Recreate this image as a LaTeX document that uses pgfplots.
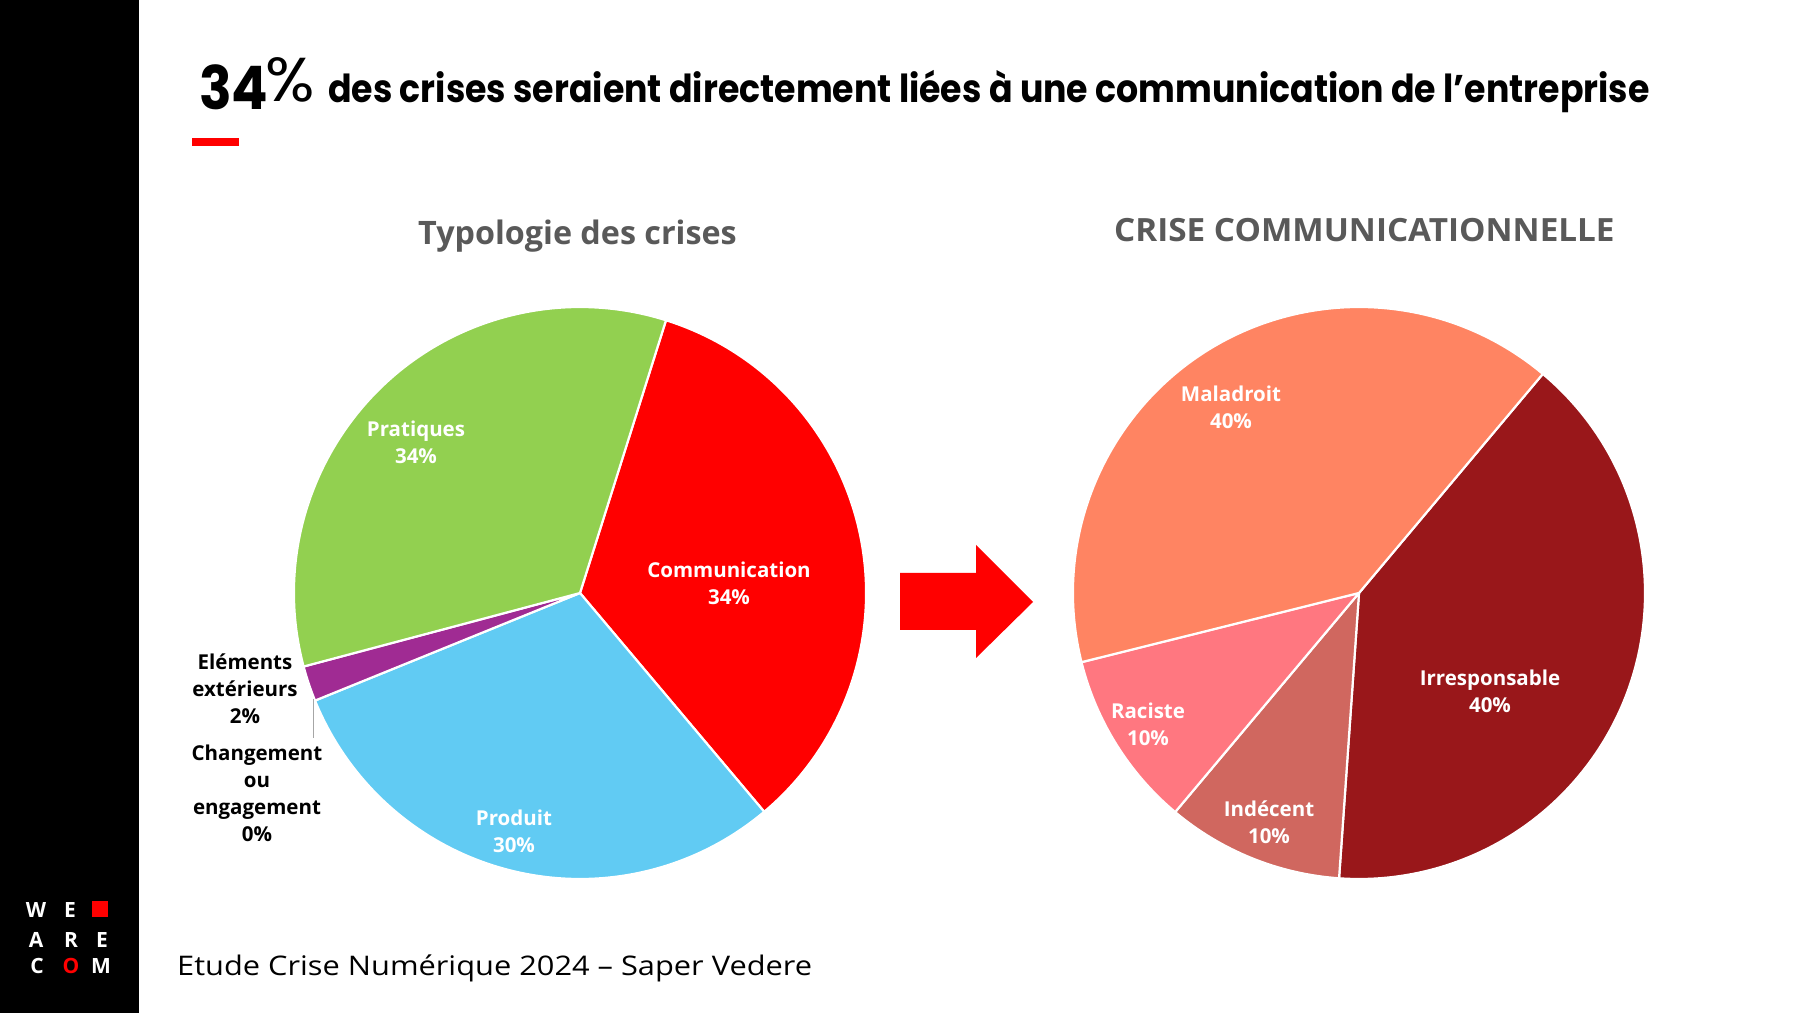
\documentclass[border=0pt]{standalone}
\usepackage{pgfplots}
\pgfplotsset{compat=1.18}
\usepackage{pgfplotstable}
\usepackage{fontspec}
\setmainfont{Open Sans}
\newfontfamily\titlefont{Poppins}[FakeStretch=0.9]
\newfontfamily\pctfont{Poppins}[FakeStretch=1.05]
\newfontfamily\subfont{Open Sans}
\newfontfamily\critfont{Open Sans}[FakeStretch=1.04]
\newfontfamily\footfont{Open Sans}[FakeStretch=1.14]
\newfontfamily\logofont{Open Sans}

\definecolor{cComm}{HTML}{FF0000}
\definecolor{cProd}{HTML}{61CBF3}
\definecolor{cChg}{HTML}{7F7F7F}
\definecolor{cElem}{HTML}{A02B93}
\definecolor{cPrat}{HTML}{92D050}
\definecolor{cIrr}{HTML}{99171A}
\definecolor{cInd}{HTML}{D0675F}
\definecolor{cRac}{HTML}{FF7780}
\definecolor{cMal}{HTML}{FF8462}
\definecolor{subgray}{HTML}{595959}

% Typologie des crises (clockwise from the top)
\pgfplotstableread[col sep=comma]{
value,color
34,cComm
30,cProd
0,cChg
2,cElem
34,cPrat
}\typologie
% Crise communicationnelle
\pgfplotstableread[col sep=comma]{
value,color
40,cIrr
10,cInd
10,cRac
40,cMal
}\crisecom

\newcommand{\pieslices}[2]{%
  \pgfplotstablegetrowsof{#1}%
  \pgfmathtruncatemacro{\lastrow}{\pgfplotsretval-1}%
  \xdef\angA{#2}%
  \foreach \i in {0,...,\lastrow}{%
    \pgfplotstablegetelem{\i}{value}\of{#1}\let\val\pgfplotsretval
    \pgfplotstablegetelem{\i}{color}\of{#1}\let\col\pgfplotsretval
    \pgfmathsetmacro{\angB}{\angA-3.6*\val}%
    \ifdim\val pt>0pt
      \fill[fill=\col, draw=white, line width=2.2pt, line join=round]
        (axis cs:0,0) -- (axis cs:{cos(\angA)},{sin(\angA)})
        arc[start angle=\angA, end angle=\angB, radius=286pt] -- cycle;
    \fi
    \xdef\angA{\angB}%
  }%
}

\tikzset{
  lab/.style={align=center, font=\fontsize{20.5}{27}\selectfont\bfseries, text=white, inner sep=0pt}
}
\pgfplotsset{
  pieaxis/.style={anchor=center, scale only axis, width=572pt, height=572pt,
    xmin=-1, xmax=1, ymin=-1, ymax=1, hide axis, clip=false}
}

\begin{document}
\begin{tikzpicture}[x=1pt,y=1pt]
  % canvas
  \fill[white] (0,0) rectangle (1800,1013);
  \fill[black] (0,0) rectangle (139,1013);

  % logo
  \begin{scope}[every node/.style={font=\logofont\bfseries\fontsize{21}{21}\selectfont, text=white, anchor=base, inner sep=0pt}]
    \node at (36,96) {W};
    \node at (70,96) {E};
    \fill[red] (92,96) rectangle (108,112);
    \node at (36,66) {A};
    \node at (71,66) {R};
    \node at (102,66) {E};
    \node at (37,40) {C};
    \node[text=red] at (71,40) {O};
    \node at (101,40) {M};
  \end{scope}

  % title
  \node[anchor=base west, inner sep=0pt] at (199,903) {\titlefont\bfseries\fontsize{60}{60}\selectfont 34};
  \node[anchor=base west, inner sep=0pt] at (265,911) {\pctfont\fontsize{62}{62}\selectfont \%};
  \node[anchor=base west, inner sep=0pt] at (328,910) {\titlefont\bfseries\fontsize{38.6}{38.6}\selectfont des crises seraient directement liées à une communication de l’entreprise};
  \fill[red] (192,867) rectangle (239,875);

  % subtitles
  \node[anchor=base west, inner sep=0pt, text=subgray] at (418,768) {\subfont\bfseries\fontsize{32.3}{32.3}\selectfont Typologie des crises};
  \node[anchor=base west, inner sep=0pt, text=subgray] at (1114,771) {\critfont\bfseries\fontsize{32}{32}\selectfont CRISE COMMUNICATIONNELLE};

  % left pie
  \begin{axis}[pieaxis, at={(580pt,420pt)}]
    \pgfplotsextra{\pieslices{\typologie}{72.5}}
  \end{axis}
  % right pie
  \begin{axis}[pieaxis, at={(1359pt,420pt)}]
    \pgfplotsextra{\pieslices{\crisecom}{50}}
  \end{axis}

  % labels left
  \node[lab] at (729,429.5) {Communication\\34\%};
  \node[lab] at (416,571) {Pratiques\\34\%};
  \node[lab] at (514,181.5) {Produit\\30\%};
  \node[lab, text=black] at (245,324.5) {Eléments\\extérieurs\\2\%};
  \node[lab, text=black] at (257,219.5) {Changement\\ou\\engagement\\0\%};
  \draw[gray!70, line width=1pt] (313,314) -- (313,275);

  % labels right
  \node[lab] at (1231,605.5) {Maladroit\\40\%};
  \node[lab] at (1490,321.5) {Irresponsable\\40\%};
  \node[lab] at (1148,288.5) {Raciste\\10\%};
  \node[lab] at (1269,190.5) {Indécent\\10\%};

  % arrow
  \fill[red] (900,440) -- (976,440) -- (976,468) -- (1033,411) -- (976,355) -- (976,383) -- (900,383) -- cycle;

  % footer
  \node[anchor=base west, inner sep=0pt] at (177,38) {\footfont\fontsize{27}{27}\selectfont Etude Crise Numérique 2024 – Saper Vedere};
\end{tikzpicture}
\end{document}
